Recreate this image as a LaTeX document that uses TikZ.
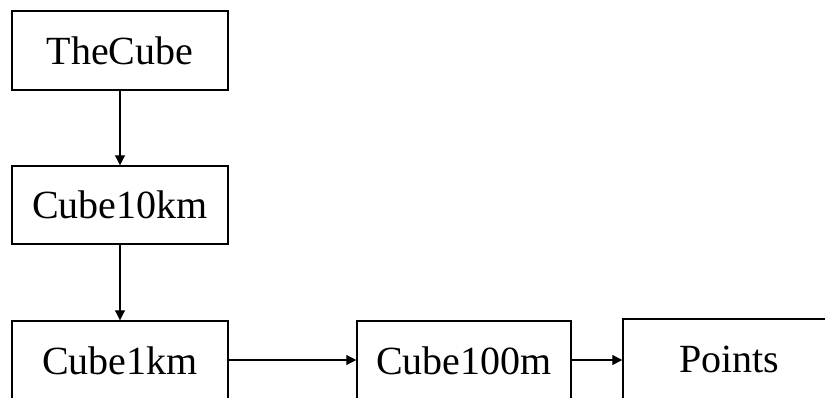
\documentclass[tikz,border=0pt]{standalone}
\usepackage{fontspec}
\setmainfont{Liberation Serif}
\usetikzlibrary{arrows.meta}
\begin{document}
\begin{tikzpicture}[x=0.75pt,y=-0.75pt,
  box/.style={draw,line width=1.1pt,inner sep=0pt,font=\fontsize{30}{30}\selectfont},
  conn/.style={line width=0.9pt,-{Triangle[length=7.5pt,width=7.5pt]}}]
\useasboundingbox (0,0) rectangle (825,397);
\clip (0,0) rectangle (825,397);
\node[box,minimum width=162pt,minimum height=59.25pt] (a) at (120,50.5) {TheCube};
\node[box,minimum width=162pt,minimum height=58.5pt] (b) at (120,205) {Cube10km};
\node[box,minimum width=162pt,minimum height=59.25pt] (c) at (120,360.5) {Cube1km};
\node[box,minimum width=160.5pt,minimum height=59.25pt] (d) at (464,360.5) {Cube100m};
\node[box,minimum width=159.75pt,minimum height=60.75pt] (e) at (729.5,359.5) {Points};
\draw[conn] (a) -- (b);
\draw[conn] (b) -- (c);
\draw[conn] (c.east |- 0,360) -- (d.west |- 0,360);
\draw[conn] (d.east |- 0,360) -- (e.west |- 0,360);
\end{tikzpicture}
\end{document}
